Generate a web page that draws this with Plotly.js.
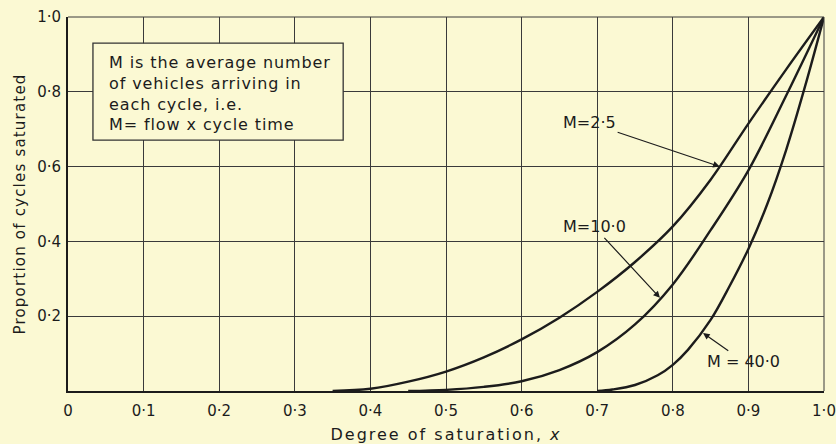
<!DOCTYPE html>
<html>
<head>
<meta charset="utf-8">
<script src="https://cdn.plot.ly/plotly-3.0.1.min.js"></script>
<style>
  html, body { margin: 0; padding: 0; background: #FBF9D3; }
  #chart { width: 836px; height: 444px; }
  #chart .xtitle { letter-spacing: 2px; }
  #chart .ytitle { letter-spacing: 1.2px; }
  #chart .note-text text { letter-spacing: 0.9px; }
</style>
</head>
<body>
<div id="chart"></div>
<script>
// Degree of saturation (x) against proportion of cycles saturated, for three values of M
const xM25 = [0.35, 0.40, 0.45, 0.50, 0.55, 0.60, 0.65, 0.70, 0.75, 0.80, 0.85, 0.90, 0.95, 1.00];
const yM25 = [0.000, 0.006, 0.025, 0.052, 0.090, 0.138, 0.196, 0.265, 0.345, 0.440, 0.565, 0.715, 0.860, 1.000];

const xM10 = [0.45, 0.50, 0.55, 0.60, 0.65, 0.70, 0.75, 0.80, 0.85, 0.90, 0.95, 1.00];
const yM10 = [0.000, 0.003, 0.011, 0.026, 0.056, 0.104, 0.178, 0.285, 0.430, 0.590, 0.790, 1.000];

const xM40 = [0.70, 0.72, 0.75, 0.78, 0.80, 0.82, 0.85, 0.875, 0.90, 0.925, 0.95, 0.975, 1.00];
const yM40 = [0.000, 0.004, 0.016, 0.042, 0.070, 0.110, 0.190, 0.280, 0.380, 0.500, 0.645, 0.815, 1.000];

const xTickVals = [0, 0.1, 0.2, 0.3, 0.4, 0.5, 0.6, 0.7, 0.8, 0.9, 1.0];
const xTickText = ['0', '0·1', '0·2', '0·3', '0·4', '0·5', '0·6', '0·7', '0·8', '0·9', '1·0'];
const yTickVals = [0.2, 0.4, 0.6, 0.8, 1.0];
const yTickText = ['0·2', '0·4', '0·6', '0·8', '1·0'];

const curveLabels = ['M=2·5', 'M=10·0', 'M = 40·0'];
const noteLines = ['M is the average number', 'of vehicles arriving in', 'each cycle, i.e.', 'M= flow x cycle time'];

const BG = '#FBF9D3';
const INK = '#1c1c1c';
const GRID = '#3a3a3a';
const FONT = 'DejaVu Sans, Liberation Sans, sans-serif';

const lineStyle = { color: INK, width: 2.4, shape: 'spline', smoothing: 1 };

const traces = [
  { x: xM25, y: yM25, mode: 'lines', line: lineStyle, name: curveLabels[0], hoverinfo: 'skip' },
  { x: xM10, y: yM10, mode: 'lines', line: lineStyle, name: curveLabels[1], hoverinfo: 'skip' },
  { x: xM40, y: yM40, mode: 'lines', line: lineStyle, name: curveLabels[2], hoverinfo: 'skip' }
];

function labelArrow(text, tx, ty, hx, hy) {
  return {
    text: text, x: hx, y: hy, ax: tx, ay: ty,
    xref: 'x', yref: 'y', axref: 'x', ayref: 'y',
    showarrow: true, arrowhead: 2, arrowsize: 1.1, arrowwidth: 1.2,
    arrowcolor: INK, standoff: 0,
    font: { family: FONT, size: 16, color: INK }
  };
}

const layout = {
  width: 836, height: 444,
  paper_bgcolor: BG, plot_bgcolor: BG,
  showlegend: false,
  margin: { l: 68, r: 12, t: 17, b: 53 },
  xaxis: {
    range: [0, 1], tickvals: xTickVals, ticktext: xTickText,
    showgrid: true, gridcolor: GRID, gridwidth: 1,
    zeroline: false, showline: true, linecolor: INK, linewidth: 2,
    ticks: '', ticklabelstandoff: 5, tickfont: { family: FONT, size: 15, color: INK },
    title: { text: 'Degree of saturation, <i>x</i>', font: { family: FONT, size: 16, color: INK }, standoff: 10 }
  },
  yaxis: {
    range: [0, 1], tickvals: yTickVals, ticktext: yTickText,
    showgrid: true, gridcolor: GRID, gridwidth: 1,
    zeroline: false, showline: true, linecolor: INK, linewidth: 2,
    ticks: '', ticklabelstandoff: 2, tickfont: { family: FONT, size: 15, color: INK },
    title: { text: 'Proportion of cycles saturated', font: { family: FONT, size: 15, color: INK }, standoff: 8 }
  },
  shapes: [
    // outer border on the top and right of the grid
    { type: 'line', xref: 'paper', yref: 'paper', x0: 0, x1: 1, y0: 1, y1: 1, line: { color: GRID, width: 1 } },
    { type: 'line', xref: 'paper', yref: 'paper', x0: 1, x1: 1, y0: 0, y1: 1, line: { color: GRID, width: 1 } },
    // framed note box
    { type: 'rect', xref: 'x', yref: 'y', x0: 0.033, x1: 0.364, y0: 0.671, y1: 0.93,
      fillcolor: BG, line: { color: '#333', width: 1.3 }, layer: 'above' }
  ],
  annotations: [
    { text: noteLines.join('<br>'), xref: 'x', yref: 'y', x: 0.051, y: 0.908,
      xanchor: 'left', yanchor: 'top', align: 'left', showarrow: false,
      font: { family: FONT, size: 16, color: INK } },
    labelArrow(curveLabels[0], 0.69, 0.717, 0.862, 0.600),
    labelArrow(curveLabels[1], 0.696, 0.439, 0.783, 0.249),
    labelArrow(curveLabels[2], 0.894, 0.078, 0.840, 0.155)
  ]
};

Plotly.newPlot('chart', traces, layout, { displayModeBar: false, staticPlot: true }).then(function (gd) {
  // widen the tracking of the note text block
  const first = gd.querySelectorAll('.annotation')[0];
  if (first) first.classList.add('note-text');
});
</script>
</body>
</html>
